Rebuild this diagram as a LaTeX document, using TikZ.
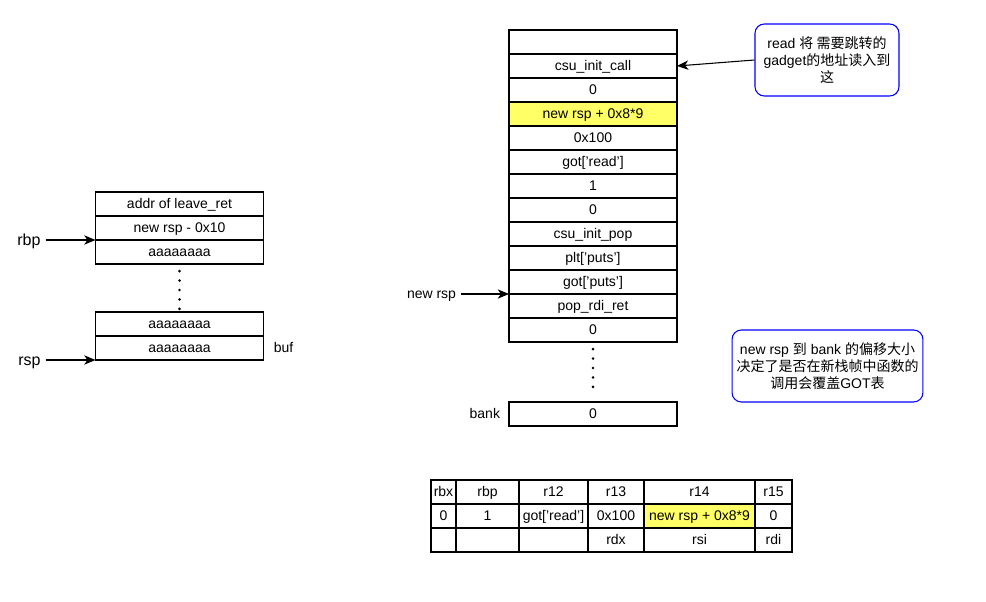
\documentclass[tikz,border=0pt]{standalone}
\usepackage{fontspec}
\setmainfont{Liberation Sans}
\newfontfamily\cjk{Noto Sans CJK SC}
\usepackage{tikz}
\usetikzlibrary{arrows.meta,positioning}
\usepackage{xcolor}
\definecolor{hlyellow}{HTML}{FFFF66}
\definecolor{noteblue}{HTML}{0000FF}

\begin{document}
\begin{tikzpicture}[x=0.75pt,y=-0.75pt,>={Stealth[length=8.5pt,width=7pt,inset=2.5pt]},
                    thick,node distance=18pt,
                    font=\fontsize{10.5}{12.6}\selectfont,text height=9.5pt,text depth=2.2pt]
  \tikzstyle{cell}=[draw,minimum width=126pt,minimum height=18pt,inner sep=2pt,outer sep=0pt]
  \tikzstyle{hl}=[cell,fill=hlyellow]
  \tikzstyle{tcell}=[draw,minimum height=18pt,inner sep=1pt,outer sep=0pt]
  \tikzstyle{ptr}=[font=\fontsize{12}{14}\selectfont,text height=10.5pt]
  \tikzstyle{note}=[draw=noteblue,rounded corners=7pt,align=center,text height=,text depth=,
                    font=\fontsize{10.5}{12.75}\selectfont]
  \tikzstyle{dots}=[line width=2.2pt,line cap=round,dash pattern=on 0pt off 7.1pt,
                    shorten <=5.3pt]

  \useasboundingbox (0,0) rectangle (986,602);

  % old frame
  \node[cell] (L1) at (179.5,204) {addr of leave\_ret};
  \node[cell] (L2) [below of=L1] {new rsp - 0x10};
  \node[cell] (L3) [below of=L2] {aaaaaaaa};
  \node[cell] (L4) at (179.5,324) {aaaaaaaa};
  \node[cell] (L5) [below of=L4] {aaaaaaaa};

  \node[ptr] (rbp) [left=37.5pt of L3.north west] {rbp};
  \node[ptr] (rsp) [left=37.5pt of L5.south west] {rsp};
  \node      (buf) [right=4pt of L5] {buf};

  % new frame
  \node[cell] (R0) at (593,42) {};
  \node[cell] (R1)  [below of=R0]  {csu\_init\_call};
  \node[cell] (R2)  [below of=R1]  {0};
  \node[hl]   (R3)  [below of=R2]  {new rsp + 0x8*9};
  \node[cell] (R4)  [below of=R3]  {0x100};
  \node[cell] (R5)  [below of=R4]  {got['read']};
  \node[cell] (R6)  [below of=R5]  {1};
  \node[cell] (R7)  [below of=R6]  {0};
  \node[cell] (R8)  [below of=R7]  {csu\_init\_pop};
  \node[cell] (R9)  [below of=R8]  {plt['puts']};
  \node[cell] (R10) [below of=R9]  {got['puts']};
  \node[cell] (R11) [below of=R10] {pop\_rdi\_ret};
  \node[cell] (R12) [below of=R11] {0};
  \node[cell] (bank) at (593,414) {0};

  \node (newrsp)  [left=36pt of R11.north west] {new rsp};
  \node (banklbl) [left=3pt of bank] {bank};

  % notes
  \node[note,minimum width=108pt,minimum height=54pt] (n1) at (827,60)
       {read {\cjk 将 需要跳转的}\\gadget{\cjk 的地址读入到}\\{\cjk 这}};
  \node[note,minimum width=143pt,minimum height=54pt] (n2) at (827.5,366)
       {new rsp {\cjk 到} bank {\cjk 的偏移大小}\\{\cjk 决定了是否在新栈帧中函数的}\\{\cjk 调用会覆盖}GOT{\cjk 表}};

  % registers
  \node[tcell,minimum width=18.75pt] (t1) at (443.5,492) {rbx};
  \node[tcell,minimum width=47.25pt] (t2) [right=0pt of t1] {rbp};
  \node[tcell,minimum width=51.75pt] (t3) [right=0pt of t2] {r12};
  \node[tcell,minimum width=42pt]    (t4) [right=0pt of t3] {r13};
  \node[tcell,minimum width=83.25pt] (t5) [right=0pt of t4] {r14};
  \node[tcell,minimum width=27.75pt] (t6) [right=0pt of t5] {r15};

  \node[tcell,minimum width=18.75pt] (v1) [below of=t1] {0};
  \node[tcell,minimum width=47.25pt] (v2) [below of=t2] {1};
  \node[tcell,minimum width=51.75pt] (v3) [below of=t3] {got['read']};
  \node[tcell,minimum width=42pt]    (v4) [below of=t4] {0x100};
  \node[tcell,minimum width=83.25pt,fill=hlyellow] (v5) [below of=t5] {new rsp + 0x8*9};
  \node[tcell,minimum width=27.75pt] (v6) [below of=t6] {0};

  \node[tcell,minimum width=18.75pt] (a1) [below of=v1] {};
  \node[tcell,minimum width=47.25pt] (a2) [below of=v2] {};
  \node[tcell,minimum width=51.75pt] (a3) [below of=v3] {};
  \node[tcell,minimum width=42pt]    (a4) [below of=v4] {rdx};
  \node[tcell,minimum width=83.25pt] (a5) [below of=v5] {rsi};
  \node[tcell,minimum width=27.75pt] (a6) [below of=v6] {rdi};

  \draw[->] (rbp) -- (L3.north west);
  \draw[->] (rsp) -- (L5.south west);
  \draw[->] (newrsp) -- (R11.north west);
  \draw[->] (n1.west) -- (R1.east);
  \draw[dots,shorten >=1pt] (L3.south) -- (L4.north);
  \draw[dots,shorten >=8pt] (R12.south) -- (bank.north);
\end{tikzpicture}
\end{document}
